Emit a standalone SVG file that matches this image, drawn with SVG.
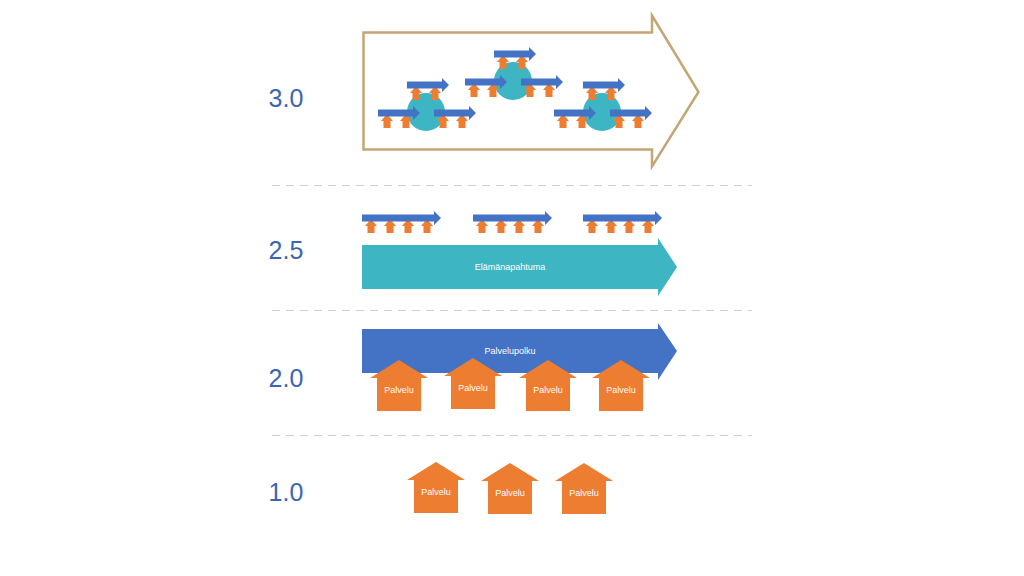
<svg xmlns="http://www.w3.org/2000/svg" xmlns:xlink="http://www.w3.org/1999/xlink" width="1024" height="576" viewBox="0 0 1024 576">
<style>
.lvl{font-family:"Liberation Sans",Arial,sans-serif;font-size:25px;fill:#3C66B0;text-anchor:middle}
.in{font-family:"Liberation Sans",Arial,sans-serif;font-size:9px;fill:#FFFFFF;text-anchor:middle}
.sep{stroke:#D0D0D0;stroke-width:1.2;stroke-dasharray:8 6;fill:none}
.or{fill:#ED7D31}
.bl{fill:#4472C4}
.tl{fill:#3DB5C3}
</style>
<defs>
<path id="oa" class="or" d="M-6,8 L0,1 L6,8 L3.5,8 L3.5,15 L-3.5,15 L-3.5,8 Z"/>
<g id="mini2">
<use xlink:href="#oa" x="9"/>
<use xlink:href="#oa" x="28"/>
<path class="bl" d="M0,-3.5 L35,-3.5 L35,-7 L42,0 L35,7 L35,3.5 L0,3.5 Z"/>
</g>
<g id="mini4">
<use xlink:href="#oa" x="9"/>
<use xlink:href="#oa" x="28"/>
<use xlink:href="#oa" x="46"/>
<use xlink:href="#oa" x="65"/>
<path class="bl" d="M0,-3.5 L72,-3.5 L72,-7 L79,0 L72,7 L72,3.5 L0,3.5 Z"/>
</g>
<g id="cluster">
<circle class="tl" cx="0" cy="0" r="19"/>
<use xlink:href="#mini2" x="-19" y="-27"/>
<use xlink:href="#mini2" x="-48" y="1"/>
<use xlink:href="#mini2" x="8" y="1"/>
</g>
<g id="house">
<path class="or" d="M-29,18 L0,0 L29,18 L22,18 L22,51 L-22,51 L-22,18 Z"/>
</g>
</defs>

<g id="connectors">
<line class="sep" x1="272" y1="185.5" x2="752" y2="185.5"/>
<line class="sep" x1="272" y1="310.5" x2="752" y2="310.5"/>
<line class="sep" x1="272" y1="435.5" x2="752" y2="435.5"/>
</g>

<g id="labels">
<text class="lvl" x="286" y="107">3.0</text>
<text class="lvl" x="286" y="259">2.5</text>
<text class="lvl" x="286" y="387">2.0</text>
<text class="lvl" x="286" y="501">1.0</text>
</g>

<g id="level3">
<path d="M363.5,32.5 L652,32.5 L652,15.5 L698.5,92 L652,166.5 L652,149.5 L363.5,149.5 Z" fill="#FFFFFF" stroke="#C4A574" stroke-width="2.5" stroke-linejoin="miter"/>
<use id="cluster-left" xlink:href="#cluster" x="426" y="112"/>
<use id="cluster-mid" xlink:href="#cluster" x="513" y="81"/>
<use id="cluster-right" xlink:href="#cluster" x="602" y="112"/>
</g>

<g id="level25">
<use xlink:href="#mini4" x="362" y="218"/>
<use xlink:href="#mini4" x="473" y="218"/>
<use xlink:href="#mini4" x="583" y="218"/>
<g id="elamanapahtuma">
<path class="tl" d="M362,245 L658,245 L658,238 L677,267 L658,296 L658,289 L362,289 Z"/>
<text class="in" x="510" y="270">Elämänapahtuma</text>
</g>
</g>

<g id="level20">
<g id="palvelupolku">
<path class="bl" d="M362,329 L658,329 L658,323 L677,351 L658,380 L658,373 L362,373 Z"/>
<text class="in" x="510" y="354">Palvelupolku</text>
</g>
<g id="p20-1"><use xlink:href="#house" x="399" y="360"/><text class="in" x="399" y="393">Palvelu</text></g>
<g id="p20-2"><use xlink:href="#house" x="473" y="358"/><text class="in" x="473" y="391">Palvelu</text></g>
<g id="p20-3"><use xlink:href="#house" x="548" y="360"/><text class="in" x="548" y="393">Palvelu</text></g>
<g id="p20-4"><use xlink:href="#house" x="621" y="360"/><text class="in" x="621" y="393">Palvelu</text></g>
</g>

<g id="level10">
<g id="p10-1"><use xlink:href="#house" x="436" y="462"/><text class="in" x="436" y="495">Palvelu</text></g>
<g id="p10-2"><use xlink:href="#house" x="510" y="463"/><text class="in" x="510" y="496">Palvelu</text></g>
<g id="p10-3"><use xlink:href="#house" x="584" y="463"/><text class="in" x="584" y="496">Palvelu</text></g>
</g>
</svg>
